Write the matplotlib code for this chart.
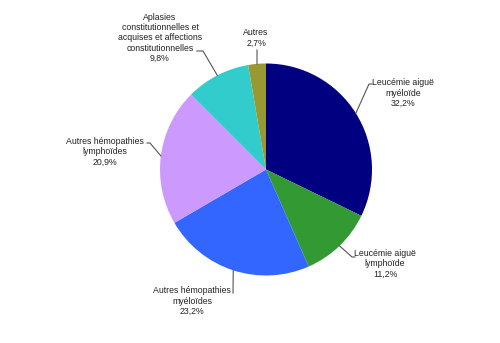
import numpy as np
import matplotlib.pyplot as plt

# data
categories = ['Leucémie aiguë\nmyéloïde', 'Leucémie aiguë\nlymphoïde',
              'Autres hémopathies\nmyéloïdes', 'Autres hémopathies\nlymphoïdes',
              'Aplasies\nconstitutionnelles et\nacquises et affections\nconstitutionnelles',
              'Autres']
values = [32.2, 11.2, 23.2, 20.9, 9.8, 2.7]
colors = ['#000080', '#339933', '#3366FF', '#CC99FF', '#33CCCC', '#999933']

W, H = 500, 343
cx, cy, r = 266, H - 169.5, 106

# label layout in pixels (text centre, elbow point, end of leader), y from top
text_pos = [(403, 93), (385, 264), (192, 301), (105, 152), (160, 38), (256, 38)]
elbows = [(369, 84), (352, 257), (233, 293), (150, 143), (203, 51), (257, 50)]
ends = [(372, 84), (355, 257), (233, 293), (147, 143), (197, 51), (257, 50)]

plt.rcParams['font.family'] = ['Liberation Sans', 'DejaVu Sans']

fig = plt.figure(figsize=(W / 100, H / 100), dpi=100)
ax = fig.add_axes([0, 0, 1, 1])
ax.set_xlim(0, W)
ax.set_ylim(0, H)
ax.axis('off')

wedges, _ = ax.pie(values, colors=colors, startangle=90, counterclock=False,
                   center=(cx, cy), radius=r, frame=True,
                   wedgeprops=dict(linewidth=0))
ax.set_xlim(0, W)
ax.set_ylim(0, H)
ax.axis('off')

for w, lab, val, tp, el, en in zip(wedges, categories, values, text_pos, elbows, ends):
    ang = np.deg2rad((w.theta1 + w.theta2) / 2)
    ex, ey = cx + r * np.cos(ang), cy + r * np.sin(ang)
    ax.plot([ex, el[0], en[0]], [ey, H - el[1], H - en[1]], color='#555555', lw=0.8)
    txt = lab + '\n' + f'{val:.1f}'.replace('.', ',') + '%'
    ax.text(tp[0], H - tp[1], txt, ha='center', va='center', fontsize=6.3,
            linespacing=1.2, color='#222222')

fig.savefig('out.png', dpi=100)
